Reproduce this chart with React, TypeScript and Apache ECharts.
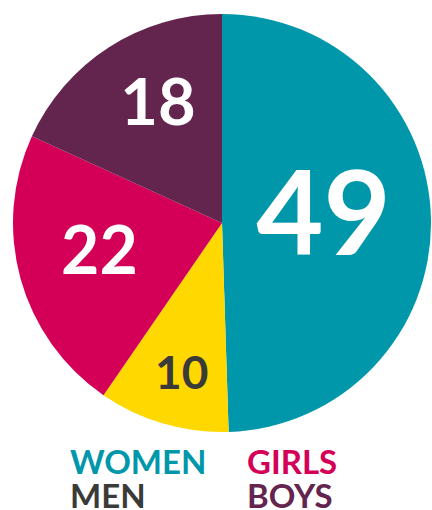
import React, { useEffect, useRef } from "react";
import * as echarts from "echarts";

const categories = ["WOMEN", "MEN", "GIRLS", "BOYS"];
const values = [49, 10, 22, 18];
const sliceColors = ["#0097AB", "#FFD800", "#D40058", "#63244E"];
const legendColors = ["#0097AB", "#3A3A38", "#D40058", "#63244E"];
const labelColors = ["#FFFFFF", "#3A3A38", "#FFFFFF", "#FFFFFF"];
const labelSizes = [116, 46, 66, 65];
const labelOffsets: [number, number][] = [
  [-6, -11],
  [-10, 45],
  [-19, -3],
  [-6, -33],
];
const legendPos: [number, number][] = [
  [65, 444],
  [65, 478],
  [242, 444],
  [242, 478],
];

const FONT = "Lato";

export default function App() {
  const ref = useRef<HTMLDivElement>(null);
  useEffect(() => {
    if (!ref.current) return;
    const chart = echarts.init(ref.current, null, { renderer: "svg" });
    const data = categories.map((name, i) => ({
      name,
      value: values[i],
      itemStyle: { color: sliceColors[i] },
      label: {
        color: labelColors[i],
        fontSize: labelSizes[i],
        offset: labelOffsets[i],
      },
    }));
    const legends = categories.map((name, i) => ({
      left: legendPos[i][0],
      top: legendPos[i][1],
      orient: "vertical",
      itemWidth: 0,
      itemHeight: 0,
      itemGap: 0,
      padding: 0,
      selectedMode: false,
      data: [{ name, icon: "none", textStyle: { color: legendColors[i] } }],
      textStyle: {
        fontFamily: FONT,
        fontWeight: "bold",
        fontSize: 33,
        lineHeight: 34,
        padding: 0,
      },
    }));
    chart.setOption({
      animation: false,
      legend: legends,
      series: [
        {
          type: "pie",
          center: [222, 223],
          radius: [0, 209],
          startAngle: 90,
          clockwise: true,
          silent: true,
          itemStyle: { borderWidth: 0 },
          label: {
            show: true,
            position: "inside",
            formatter: "{c}",
            fontFamily: FONT,
            fontWeight: "bold",
          },
          labelLine: { show: false },
          data,
        },
      ],
    });
    return () => chart.dispose();
  }, []);
  return (
    <div
      ref={ref}
      style={{ position: "fixed", left: 0, top: 0, width: 432, height: 510, background: "#fff" }}
    />
  );
}
